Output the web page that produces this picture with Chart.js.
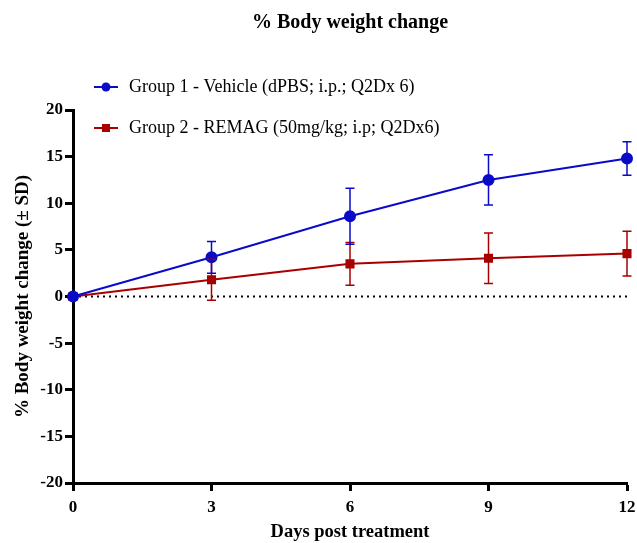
<!DOCTYPE html>
<html>
<head>
<meta charset="utf-8">
<script src="https://cdn.jsdelivr.net/npm/chart.js@4/dist/chart.umd.min.js"></script>
<style>
  html, body { margin: 0; padding: 0; background: #fff; }
  #wrap { width: 637px; height: 543px; }
</style>
</head>
<body>
<div id="wrap"><canvas id="bodyWeightChart" width="637" height="543"></canvas></div>
<script>
// data
const days = [0, 3, 6, 9, 12];
const vehicleMean = [0, 4.2, 8.6, 12.5, 14.8];
const vehicleSD = [0, 1.7, 3.0, 2.7, 1.8];
const remagMean = [0, 1.8, 3.5, 4.1, 4.6];
const remagSD = [0, 2.2, 2.3, 2.7, 2.4];
const yTicks = [-20, -15, -10, -5, 0, 5, 10, 15, 20];
const xTicks = [0, 3, 6, 9, 12];

const blue = '#0a0ac8';
const red = '#a80000';
const serif = "'Liberation Serif', 'DejaVu Serif', serif";

const toPoints = (xs, ys) => xs.map((x, i) => ({ x: x, y: ys[i] }));

// zero reference line, dotted
const zeroLine = {
    id: 'zeroLine',
    beforeDatasetsDraw(chart) {
        const { ctx, scales: { x, y } } = chart;
        const py = y.getPixelForValue(0);
        ctx.save();
        ctx.strokeStyle = '#000';
        ctx.lineWidth = 2;
        ctx.setLineDash([2, 4]);
        ctx.beginPath();
        ctx.moveTo(x.getPixelForValue(0), py);
        ctx.lineTo(x.getPixelForValue(12), py);
        ctx.stroke();
        ctx.restore();
    }
};

// ± SD bars
const errorBars = {
    id: 'errorBars',
    afterDatasetsDraw(chart) {
        const { ctx, scales: { x, y } } = chart;
        const sets = [[remagMean, remagSD, red], [vehicleMean, vehicleSD, blue]];
        ctx.save();
        ctx.lineWidth = 1.5;
        sets.forEach(([means, sds, col]) => {
            ctx.strokeStyle = col;
            days.forEach((d, i) => {
                if (!sds[i]) return;
                const px = x.getPixelForValue(d);
                const top = y.getPixelForValue(means[i] + sds[i]);
                const bot = y.getPixelForValue(means[i] - sds[i]);
                ctx.beginPath();
                ctx.moveTo(px, top); ctx.lineTo(px, bot);
                ctx.moveTo(px - 4.5, top); ctx.lineTo(px + 4.5, top);
                ctx.moveTo(px - 4.5, bot); ctx.lineTo(px + 4.5, bot);
                ctx.stroke();
            });
        });
        ctx.restore();
    }
};

// legend drawn by hand so it can sit at the upper left
const sideLegend = {
    id: 'sideLegend',
    afterDraw(chart) {
        const { ctx } = chart;
        const items = chart.data.datasets.map((ds, i) => ({
            text: ds.label, color: ds.borderColor, style: ds.pointStyle, y: i === 0 ? 87 : 128
        }));
        ctx.save();
        ctx.font = '18px ' + serif;
        ctx.textBaseline = 'middle';
        items.forEach(it => {
            ctx.strokeStyle = it.color;
            ctx.fillStyle = it.color;
            ctx.lineWidth = 2;
            ctx.beginPath();
            ctx.moveTo(94, it.y); ctx.lineTo(118, it.y);
            ctx.stroke();
            if (it.style === 'circle') {
                ctx.beginPath();
                ctx.arc(106, it.y, 4.5, 0, Math.PI * 2);
                ctx.fill();
            } else {
                ctx.fillRect(102, it.y - 4, 8, 8);
            }
            ctx.fillStyle = '#000';
            ctx.fillText(it.text, 129, it.y);
        });
        ctx.restore();
    }
};

const axisCommon = {
    type: 'linear',
    border: { display: true, color: '#000', width: 3 },
    grid: { display: true, drawOnChartArea: false, drawTicks: true, tickLength: 8, tickColor: '#000', tickWidth: 3 },
    ticks: { color: '#000', font: { family: serif, size: 17, weight: 'bold' } },
    title: { display: true, color: '#000', font: { family: serif, weight: 'bold' } }
};

new Chart(document.getElementById('bodyWeightChart'), {
    type: 'line',
    data: {
        datasets: [{
            label: 'Group 1 - Vehicle (dPBS; i.p.; Q2Dx 6)',
            data: toPoints(days, vehicleMean),
            borderColor: blue,
            backgroundColor: blue,
            borderWidth: 2,
            pointStyle: 'circle',
            pointRadius: 5,
            clip: false
        }, {
            label: 'Group 2 - REMAG (50mg/kg; i.p; Q2Dx6)',
            data: toPoints(days, remagMean),
            borderColor: red,
            backgroundColor: red,
            borderWidth: 2,
            pointStyle: 'rect',
            pointRadius: 5,
            clip: false
        }]
    },
    options: {
        responsive: false,
        animation: false,
        layout: { padding: { top: 0, right: 10, bottom: 0, left: 0 } },
        plugins: {
            legend: { display: false },
            tooltip: { enabled: false },
            title: {
                display: true,
                fullSize: false,
                text: '% Body weight change',
                color: '#000',
                font: { family: serif, size: 20, weight: 'bold' },
                padding: { top: 11, bottom: 75 }
            }
        },
        scales: {
            x: {
                ...axisCommon,
                min: 0, max: 12,
                afterBuildTicks: s => { s.ticks = xTicks.map(v => ({ value: v })); },
                afterFit: s => { s.height = 60; s.paddingLeft = 0; s.paddingRight = 0; },
                ticks: { ...axisCommon.ticks, padding: 6 },
                title: { ...axisCommon.title, font: { ...axisCommon.title.font, size: 18.5 }, text: 'Days post treatment', padding: { top: 2, bottom: 0 } }
            },
            y: {
                ...axisCommon,
                min: -20, max: 20,
                afterBuildTicks: s => { s.ticks = yTicks.map(v => ({ value: v })); },
                afterFit: s => { s.width = 73; },
                ticks: { ...axisCommon.ticks, padding: 2 },
                title: { ...axisCommon.title, font: { ...axisCommon.title.font, size: 19 }, text: '% Body weight change (\u00b1 SD)', padding: { top: 12, bottom: 0 } }
            }
        }
    },
    plugins: [zeroLine, errorBars, sideLegend]
});
</script>
</body>
</html>
